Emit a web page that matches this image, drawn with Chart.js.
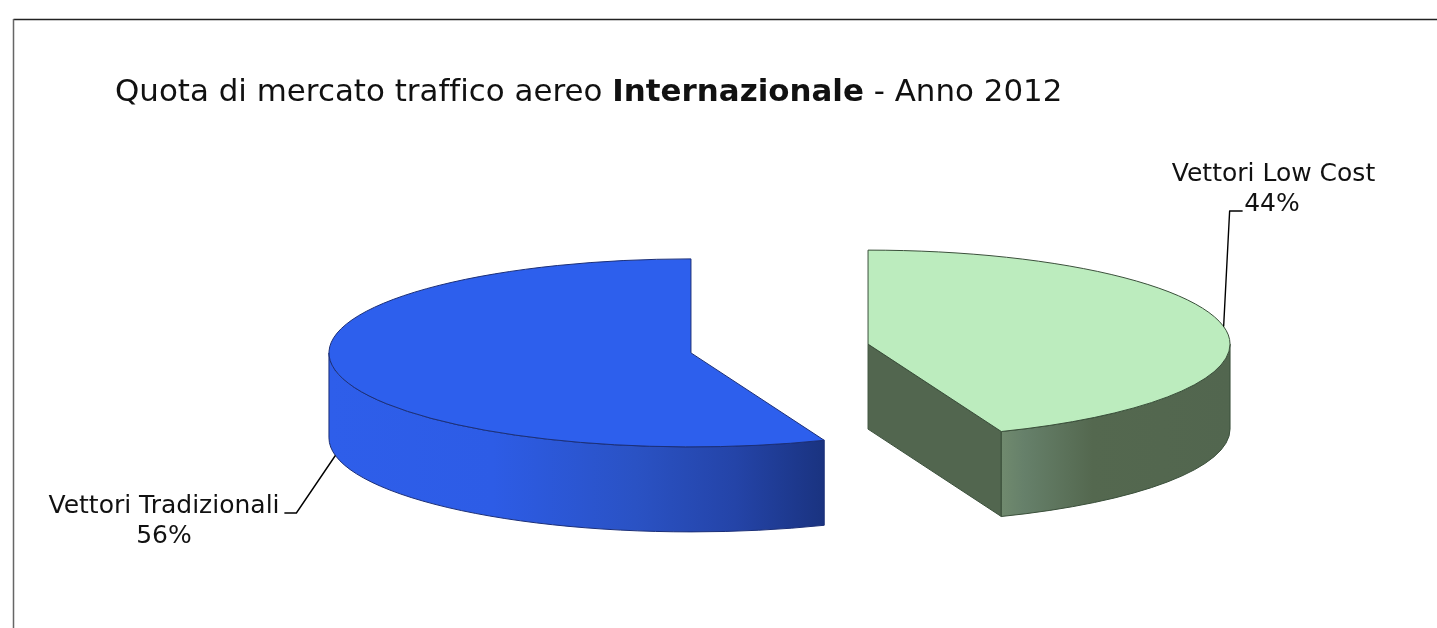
<!DOCTYPE html>
<html lang="it">
<head>
<meta charset="utf-8">
<title>Quota di mercato traffico aereo Internazionale - Anno 2012</title>
<script src="https://cdn.jsdelivr.net/npm/chart.js@4"></script>
<style>
html,body{margin:0;padding:0;background:#fff;overflow:hidden}
canvas{display:block}
</style>
</head>
<body>
<canvas id="c" width="1437" height="628"></canvas>
<script>
const categories = ["Vettori Low Cost", "Vettori Tradizionali"];
const shares = [44, 56];
const titleParts = [["Quota di mercato traffico aereo ", false], ["Internazionale", true], [" - Anno 2012", false]];

const topColors = ["#bcecbe", "#2d5fed"];
const edgeColors = ["#3a4f3a", "#1b2f78"];
const faceColors = ["#52664f", "#1b3585"];
const wallStops = [
  [[0, "#708a6e"], [0.1, "#66806a"], [0.4, "#54684f"], [1, "#52664f"]],
  [[0, "#2e5eea"], [0.33, "#2d5ce6"], [0.62, "#2a52c4"], [0.82, "#2444a8"], [1, "#1a3380"]]
];

const FONT = '"DejaVu Sans", Verdana, sans-serif';
const PIE = { cx: 779.5, cy: 348.5, rx: 362, ry: 94, depth: 85, explode: 49.8 };

function sliceGeom(chart, i) {
  const arc = chart.getDatasetMeta(0).data[i];
  const R = arc.outerRadius;
  const sx = PIE.rx / R, sy = PIE.ry / R;
  const mid = (arc.startAngle + arc.endAngle) / 2;
  const dx = Math.cos(mid) * PIE.explode, dy = Math.sin(mid) * PIE.explode;
  return {
    arc, R, sx, sy, mid, dx, dy,
    a0: arc.startAngle, a1: arc.endAngle,
    x: PIE.cx + dx * sx,
    y: PIE.cy + dy * sy
  };
}
function rim(g, a, dy) {
  return [g.x + PIE.rx * Math.cos(a), g.y + (dy || 0) + PIE.ry * Math.sin(a)];
}

const pie3d = {
  id: "pie3d",
  beforeDatasetsDraw(chart) {
    const ctx = chart.ctx, D = PIE.depth;
    ctx.save();
    // frame
    ctx.lineWidth = 1.5;
    ctx.strokeStyle = "#222";
    ctx.beginPath(); ctx.moveTo(1437, 19.5); ctx.lineTo(13.5, 19.5); ctx.stroke();
    ctx.strokeStyle = "#666";
    ctx.beginPath(); ctx.moveTo(13.5, 19); ctx.lineTo(13.5, 628); ctx.stroke();

    ctx.lineWidth = 1;
    categories.forEach((_, i) => {
      const g = sliceGeom(chart, i);
      ctx.lineJoin = "round";
      ctx.strokeStyle = edgeColors[i];
      // straight cut faces turned to the viewer
      [[g.a0, -1], [g.a1, 1]].forEach(([a, sign]) => {
        if (sign * Math.cos(a) > 1e-6) {
          const p = rim(g, a);
          ctx.beginPath();
          ctx.moveTo(g.x, g.y);
          ctx.lineTo(p[0], p[1]);
          ctx.lineTo(p[0], p[1] + D);
          ctx.lineTo(g.x, g.y + D);
          ctx.closePath();
          ctx.fillStyle = faceColors[i];
          ctx.fill();
          ctx.stroke();
        }
      });
      // curved outer wall (front half only)
      const v0 = Math.max(g.a0, 0), v1 = Math.min(g.a1, Math.PI);
      if (v1 > v0) {
        const xs = [rim(g, v0)[0], rim(g, v1)[0]];
        const gr = ctx.createLinearGradient(Math.min(...xs), 0, Math.max(...xs), 0);
        wallStops[i].forEach(s => gr.addColorStop(s[0], s[1]));
        ctx.beginPath();
        ctx.ellipse(g.x, g.y, PIE.rx, PIE.ry, 0, v0, v1);
        ctx.ellipse(g.x, g.y + D, PIE.rx, PIE.ry, 0, v1, v0, true);
        ctx.closePath();
        ctx.fillStyle = gr;
        ctx.fill();
        ctx.stroke();
      }
    });
    ctx.restore();
  },
  // draw the library's own arc elements, squashed and pulled apart
  beforeDatasetDraw(chart) {
    const ctx = chart.ctx;
    categories.forEach((_, i) => {
      const g = sliceGeom(chart, i);
      ctx.save();
      ctx.translate(PIE.cx, PIE.cy);
      ctx.scale(g.sx, g.sy);
      ctx.translate(-g.arc.x + g.dx, -g.arc.y + g.dy);
      g.arc.draw(ctx);
      ctx.restore();
    });
    return false;
  },
  afterDatasetsDraw(chart) {
    const ctx = chart.ctx;
    ctx.save();
    // slice outlines
    categories.forEach((_, i) => {
      const g = sliceGeom(chart, i);
      ctx.beginPath();
      ctx.moveTo(g.x, g.y);
      ctx.ellipse(g.x, g.y, PIE.rx, PIE.ry, 0, g.a0, g.a1);
      ctx.closePath();
      ctx.strokeStyle = edgeColors[i];
      ctx.lineWidth = 1;
      ctx.lineJoin = "round";
      ctx.stroke();
    });
    // leader lines, anchored to each slice's mid angle
    const g0 = sliceGeom(chart, 0), g1 = sliceGeom(chart, 1);
    const p0 = rim(g0, g0.mid), p1 = rim(g1, g1.mid, PIE.depth);
    ctx.strokeStyle = "#000";
    ctx.lineWidth = 1.4;
    ctx.beginPath();
    ctx.moveTo(p0[0], p0[1]); ctx.lineTo(p0[0] + 6, 211); ctx.lineTo(p0[0] + 19, 211);
    ctx.stroke();
    ctx.beginPath();
    ctx.moveTo(p1[0], p1[1]); ctx.lineTo(p1[0] - 39, 513); ctx.lineTo(p1[0] - 51, 513);
    ctx.stroke();
    // data labels
    ctx.fillStyle = "#111";
    ctx.textBaseline = "alphabetic";
    ctx.textAlign = "center";
    ctx.font = "25px " + FONT;
    const total = shares.reduce((a, b) => a + b, 0);
    const pct = v => Math.round(v / total * 100) + "%";
    ctx.fillText(categories[0], 1273.5, 181);
    ctx.fillText(pct(shares[0]), 1272, 211);
    ctx.fillText(categories[1], 164, 513);
    ctx.fillText(pct(shares[1]), 164, 543);
    // title with bold run (letterSpacing keeps "ffi" unligatured)
    ctx.textAlign = "left";
    if ("letterSpacing" in ctx) ctx.letterSpacing = "0.01px";
    let x = 115;
    titleParts.forEach(([t, bold]) => {
      ctx.font = (bold ? "bold " : "") + "30.9px " + FONT;
      ctx.fillText(t, x, 101);
      x += ctx.measureText(t).width;
    });
    ctx.restore();
  }
};

new Chart(document.getElementById("c"), {
  type: "pie",
  data: {
    labels: categories,
    datasets: [{
      data: shares,
      backgroundColor: topColors,
      borderWidth: 0,
      hoverOffset: 0
    }]
  },
  options: {
    responsive: false,
    animation: false,
    rotation: 0,
    layout: { padding: { top: 114, bottom: 114 } },
    plugins: { legend: { display: false }, tooltip: { enabled: false } }
  },
  plugins: [pie3d]
});
</script>
</body>
</html>
